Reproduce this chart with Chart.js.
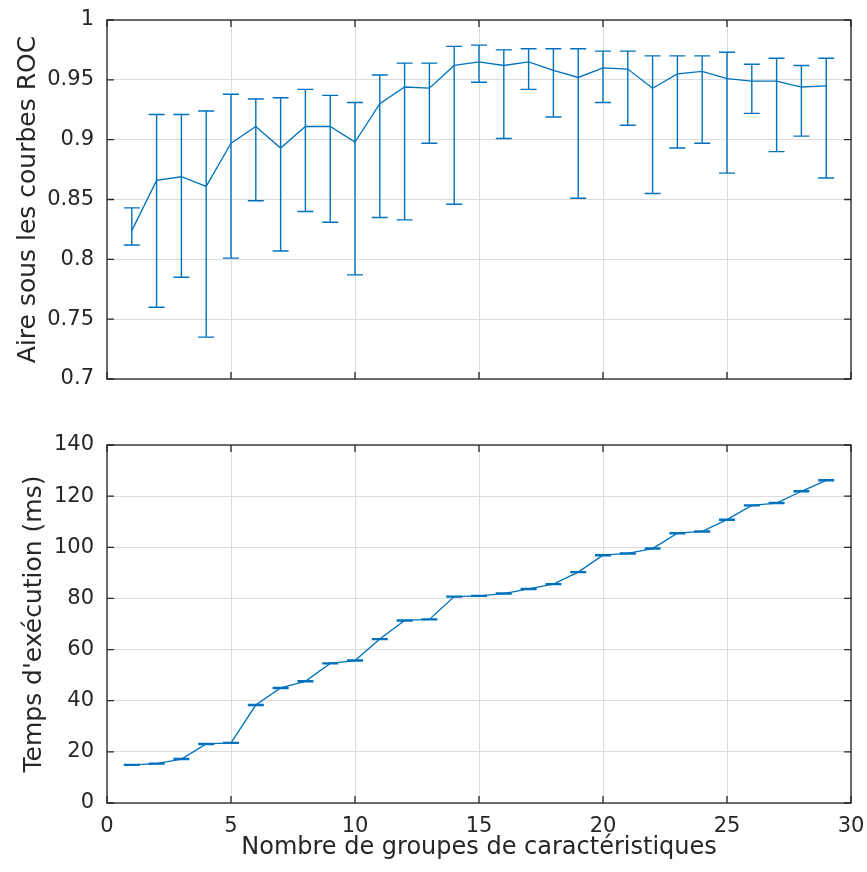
<!DOCTYPE html>
<html>
<head>
<meta charset="utf-8">
<script src="https://cdn.jsdelivr.net/npm/chart.js@4.4.1/dist/chart.umd.min.js"></script>
<style>
  body { margin: 0; background: #fff; }
  #wrap { position: relative; width: 867px; height: 872px; overflow: hidden; }
  canvas { position: absolute; left: 0; }
  #aucChart { top: 0; }
  #timeChart { top: 420px; }
</style>
</head>
<body>
<div id="wrap">
  <canvas id="aucChart" width="867" height="400"></canvas>
  <canvas id="timeChart" width="867" height="452"></canvas>
</div>
<script>
// nombre de groupes de caracteristiques
var groups = [1, 2, 3, 4, 5, 6, 7, 8, 9, 10, 11, 12, 13, 14, 15, 16, 17, 18, 19, 20, 21, 22, 23, 24, 25, 26, 27, 28, 29];

// aire sous les courbes ROC : moyenne, borne basse, borne haute
var aucMean = [0.824, 0.866, 0.869, 0.861, 0.897, 0.911, 0.893, 0.911, 0.911, 0.898, 0.930, 0.944, 0.943, 0.962, 0.965, 0.962, 0.965, 0.958, 0.952, 0.960, 0.959, 0.943, 0.955, 0.957, 0.951, 0.949, 0.949, 0.944, 0.945];
var aucLow  = [0.812, 0.760, 0.785, 0.735, 0.801, 0.849, 0.807, 0.840, 0.831, 0.787, 0.835, 0.833, 0.897, 0.846, 0.948, 0.901, 0.942, 0.919, 0.851, 0.931, 0.912, 0.855, 0.893, 0.897, 0.872, 0.922, 0.890, 0.903, 0.868];
var aucHigh = [0.843, 0.921, 0.921, 0.924, 0.938, 0.934, 0.935, 0.942, 0.937, 0.931, 0.954, 0.964, 0.964, 0.978, 0.979, 0.975, 0.976, 0.976, 0.976, 0.974, 0.974, 0.970, 0.970, 0.970, 0.973, 0.963, 0.968, 0.962, 0.968];

// temps d'execution (ms) et son ecart
var timeMean = [14.9, 15.4, 17.2, 23.1, 23.5, 38.3, 45.0, 47.6, 54.6, 55.7, 64.1, 71.4, 71.8, 80.7, 81.0, 81.9, 83.7, 85.6, 90.3, 96.9, 97.6, 99.5, 105.5, 106.2, 110.8, 116.4, 117.3, 121.9, 126.2];
var timeErr  = [0.2, 0.2, 0.2, 0.2, 0.2, 0.2, 0.2, 0.2, 0.2, 0.2, 0.2, 0.2, 0.2, 0.2, 0.2, 0.2, 0.2, 0.2, 0.2, 0.2, 0.2, 0.2, 0.2, 0.2, 0.2, 0.2, 0.2, 0.2, 0.2];
var timeLow  = timeMean.map(function(v, i) { return v - timeErr[i]; });
var timeHigh = timeMean.map(function(v, i) { return v + timeErr[i]; });

var blue = '#0072BD';
var ink = '#262626';
var FONT = "'DejaVu Sans', sans-serif";

Chart.defaults.font.family = FONT;
Chart.defaults.color = ink;

// barres d'erreur (style matlab)
var errorBars = {
  id: 'errorBars',
  afterDatasetsDraw: function(chart, args, opts) {
    var ctx = chart.ctx, xs = chart.scales.x, ys = chart.scales.y;
    ctx.save();
    ctx.strokeStyle = blue;
    ctx.lineWidth = 1.4;
    for (var i = 0; i < groups.length; i++) {
      var x = xs.getPixelForValue(groups[i]);
      var y1 = ys.getPixelForValue(opts.low[i]);
      var y2 = ys.getPixelForValue(opts.high[i]);
      ctx.beginPath();
      ctx.moveTo(x, y1); ctx.lineTo(x, y2);
      ctx.moveTo(x - 8, y1); ctx.lineTo(x + 8, y1);
      ctx.moveTo(x - 8, y2); ctx.lineTo(x + 8, y2);
      ctx.stroke();
    }
    ctx.restore();
  }
};

// cadre + graduations vers l'interieur
var boxTicks = {
  id: 'boxTicks',
  afterDraw: function(chart) {
    var ctx = chart.ctx, a = chart.chartArea, xs = chart.scales.x, ys = chart.scales.y;
    var L = 7;
    ctx.save();
    ctx.strokeStyle = ink;
    ctx.lineWidth = 1.3;
    ctx.strokeRect(a.left, a.top, a.right - a.left, a.bottom - a.top);
    ctx.beginPath();
    xs.ticks.forEach(function(t) {
      var x = xs.getPixelForValue(t.value);
      ctx.moveTo(x, a.bottom); ctx.lineTo(x, a.bottom - L);
      ctx.moveTo(x, a.top); ctx.lineTo(x, a.top + L);
    });
    ys.ticks.forEach(function(t) {
      var y = ys.getPixelForValue(t.value);
      ctx.moveTo(a.left, y); ctx.lineTo(a.left + L, y);
      ctx.moveTo(a.right, y); ctx.lineTo(a.right - L, y);
    });
    ctx.stroke();
    ctx.restore();
  }
};

function makeChart(id, mean, low, high, yOpts, xHeight, showX, padTop, titlePad) {
  return new Chart(document.getElementById(id).getContext('2d'), {
    type: 'line',
    data: {
      datasets: [{
        data: groups.map(function(g, i) { return {x: g, y: mean[i]}; }),
        borderColor: blue,
        borderWidth: 1.3,
        pointRadius: 0,
        tension: 0,
        fill: false
      }]
    },
    options: {
      responsive: false,
      animation: false,
      layout: { padding: { top: padTop, right: 16, left: 0, bottom: 0 } },
      plugins: {
        legend: { display: false },
        tooltip: { enabled: false },
        errorBars: { low: low, high: high }
      },
      scales: {
        x: {
          type: 'linear',
          min: 0, max: 30,
          ticks: { stepSize: 5, display: showX, padding: 11, font: { size: 21 }, color: ink, maxRotation: 0 },
          grid: { color: '#dcdcdc', drawTicks: false },
          border: { display: false },
          title: {
            display: showX,
            text: 'Nombre de groupes de caractéristiques',
            font: { size: 24 },
            color: ink,
            padding: { top: 0, bottom: 10 }
          },
          afterFit: function(s) { s.height = xHeight; s.paddingLeft = 0; s.paddingRight = 0; }
        },
        y: Object.assign({
          grid: { color: '#dcdcdc', drawTicks: false },
          border: { display: false },
          afterFit: function(s) { s.width = 107; s.paddingTop = 0; s.paddingBottom = 0; }
        }, yOpts, {
          title: {
            display: true,
            text: yOpts.label,
            font: { size: 25 },
            color: ink,
            padding: { top: titlePad, bottom: 0 }
          }
        })
      }
    },
    plugins: [errorBars, boxTicks]
  });
}

makeChart('aucChart', aucMean, aucLow, aucHigh, {
  label: 'Aire sous les courbes ROC',
  min: 0.7, max: 1,
  ticks: {
    stepSize: 0.05, padding: 13, font: { size: 21 }, color: ink,
    callback: function(v) { return String(+v.toFixed(2)); }
  }
}, 21, false, 20, 13);

makeChart('timeChart', timeMean, timeLow, timeHigh, {
  label: "Temps d'exécution (ms)",
  min: 0, max: 140,
  ticks: { stepSize: 20, padding: 13, font: { size: 21 }, color: ink }
}, 69, true, 25, 19);
</script>
</body>
</html>
